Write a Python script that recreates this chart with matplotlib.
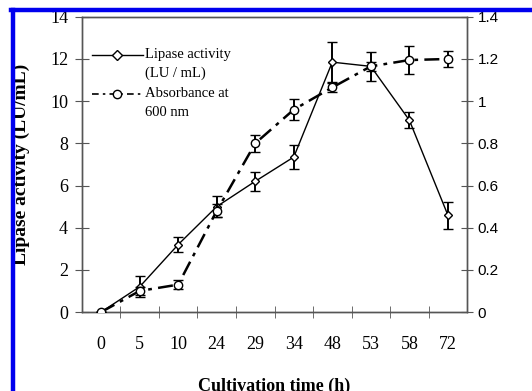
import numpy as np
import matplotlib.pyplot as plt
from matplotlib.lines import Line2D
from matplotlib.ticker import FuncFormatter

# data
times = ['0', '5', '10', '24', '29', '34', '48', '53', '58', '72']
lipase = [0, 1.2, 3.2, 5.0, 6.2, 7.35, 11.85, 11.65, 9.1, 4.6]
lipase_err = [0, 0.5, 0.35, 0.5, 0.45, 0.57, 0.95, 0.7, 0.37, 0.64]
absorb = [0, 0.10, 0.13, 0.48, 0.80, 0.96, 1.065, 1.165, 1.195, 1.20]
absorb_err = [0, 0.02, 0.02, 0.03, 0.04, 0.05, 0.02, 0.02, 0.065, 0.04]

serif = 'Liberation Serif'
sans = 'Liberation Sans'
axcol = '#555555'

fig = plt.figure(figsize=(5.32, 3.91), dpi=100)
ax = fig.add_axes([0.154, 0.202, 0.724, 0.755])
ax2 = ax.twinx()

x = np.arange(len(times))

ax.errorbar(x, lipase, yerr=lipase_err, color='black', lw=1.0,
            marker='D', ms=4.5, mfc='white', mec='black', mew=1.0,
            ecolor='black', elinewidth=1.4, capsize=3.5, capthick=1.4, zorder=3)
ax2.errorbar(x, absorb, yerr=absorb_err, color='black', lw=1.8,
             ls=(0, (6, 2.5, 1.5, 2.5)),
             marker='o', ms=6, mfc='white', mec='black', mew=1.0,
             ecolor='black', elinewidth=1.4, capsize=3.5, capthick=1.4, zorder=3)

ax.set_xlim(-0.5, len(times) - 0.5)
ax.set_ylim(0, 14)
ax2.set_ylim(0, 1.4)

ax.set_xticks(x)
ax.set_xticklabels(times, fontfamily=serif, fontsize=13)
ax.set_xticks(np.arange(0.5, len(times) - 0.5, 1), minor=True)
ax.tick_params(axis='x', which='major', length=0, pad=17)
ax.tick_params(axis='x', which='minor', direction='inout', length=9, color=axcol)

ax.set_yticks(np.arange(0, 15, 2))
ax.set_yticklabels([str(v) for v in range(0, 15, 2)], fontfamily=serif, fontsize=13)
ax.tick_params(axis='y', direction='inout', length=10, color=axcol, pad=5)

ax2.set_yticks(np.arange(0, 1.41, 0.2))
ax2.yaxis.set_major_formatter(FuncFormatter(lambda v, p: ('%.1f' % v).rstrip('0').rstrip('.') if v else '0'))
for t in ax2.get_yticklabels():
    t.set_fontfamily(sans)
    t.set_fontsize(11)
ax2.tick_params(axis='y', direction='inout', length=9, color=axcol, pad=3)

for a in (ax, ax2):
    for s in a.spines.values():
        s.set_color(axcol)
        s.set_linewidth(1.0)

ax.set_xlabel('Cultivation time (h)', fontfamily=serif, fontsize=13, fontweight='bold')
ax.xaxis.set_label_coords(0.5, -0.222)
ax.xaxis.label.set_va('top')
ax.set_ylabel('Lipase activity (LU/mL)', fontfamily=serif, fontsize=14, fontweight='bold')
ax.yaxis.set_label_coords(-0.135, 0.5)
fig.text(1.005, 0.6, 'Absorbance at 600 nm', rotation=90, fontfamily=serif,
         fontsize=14, fontweight='bold', ha='left', va='center')

# legend drawn by hand so the handle sits on the first text line
lx0, lx1, lxm, ltx = 0.026, 0.158, 0.09, 0.164
for yy, mk, ls, lw, l1, l2 in [(0.871, 'D', '-', 1.0, 'Lipase activity', '(LU / mL)'),
                               (0.739, 'o', (0, (4, 2.5, 1.5, 2.5)), 1.2, 'Absorbance at', '600 nm')]:
    ax.add_line(Line2D([lx0, lx1], [yy, yy], transform=ax.transAxes, color='black', lw=lw, ls=ls))
    ax.add_line(Line2D([lxm], [yy], transform=ax.transAxes, marker=mk, ms=5 if mk == 'D' else 6,
                       mfc='white', mec='black', mew=1.0, ls='none'))
    ax.text(ltx, yy, l1, transform=ax.transAxes, fontfamily=serif, fontsize=10.5, va='center')
    ax.text(ltx, yy - 0.062, l2, transform=ax.transAxes, fontfamily=serif, fontsize=10.5, va='center')

# blue frame on left and top
fig.add_artist(Line2D([0.0244, 0.0244], [0, 0.974], transform=fig.transFigure, color='#0000ee', lw=3.2))
fig.add_artist(Line2D([0.0215, 1.0], [0.974, 0.974], transform=fig.transFigure, color='#0000ee', lw=3.2))

fig.savefig('out.png', dpi=100)
